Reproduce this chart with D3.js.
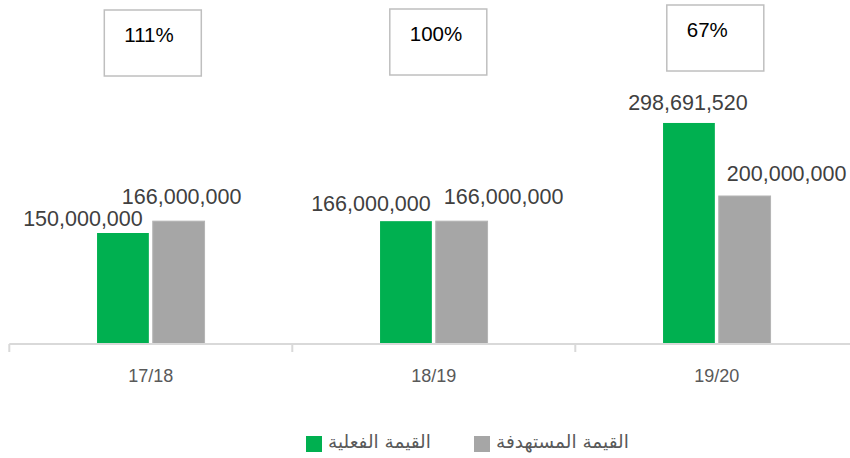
<!DOCTYPE html>
<html>
<head>
<meta charset="utf-8">
<script src="https://cdn.jsdelivr.net/npm/d3@7"></script>
<style>
  body { margin: 0; background: #fff; }
  svg { display: block; }
</style>
</head>
<body>
<div id="chart"></div>
<script>
// data
const years = ["17/18", "18/19", "19/20"];
const seriesNames = ["القيمة الفعلية", "القيمة المستهدفة"];
const actual = [150000000, 166000000, 298691520];
const target = [166000000, 166000000, 200000000];
const ratioLabels = ["111%", "100%", "67%"];

const colors = ["#00b050", "#a6a6a6"];

const width = 850, height = 458;
const baseY = 344;

// label nudges (Excel moved some labels by hand)
const labelNudge = [
  [[-40, -15], [3, -25]],
  [[-35, -18], [42, -25]],
  [[-1, -20], [42, -23]]
];
const boxNudge = [[2, 10], [4.5, 9], [-1.5, 5]];

const svg = d3.select("#chart").append("svg")
  .attr("width", width)
  .attr("height", height);

const x0 = d3.scaleBand()
  .domain(years)
  .range([9.3, 858.3]);

const x1 = d3.scaleBand()
  .domain([0, 1])
  .range([0, x0.bandwidth()])
  .paddingInner(0.07)
  .paddingOuter(1.575);

const y = d3.scaleLinear()
  .domain([0, 350000000])
  .range([baseY, baseY - 259]);

const rows = years.map((yr, i) => ({ yr, i, values: [actual[i], target[i]] }));

const groups = svg.selectAll("g.year")
  .data(rows)
  .enter()
  .append("g")
  .attr("class", "year")
  .attr("transform", d => `translate(${x0(d.yr)},0)`);

groups.selectAll("rect")
  .data(d => d.values.map((v, s) => ({ v, s, i: d.i })))
  .enter()
  .append("rect")
  .attr("x", d => x1(d.s))
  .attr("y", d => y(d.v))
  .attr("width", x1.bandwidth())
  .attr("height", d => baseY - y(d.v))
  .attr("fill", d => colors[d.s])
  .attr("stroke", d => d.s === 1 ? "#b4b4b4" : "none")
  .attr("stroke-width", 1);

const fmt = d3.format(",");
groups.selectAll("text.val")
  .data(d => d.values.map((v, s) => ({ v, s, i: d.i })))
  .enter()
  .append("text")
  .attr("class", "val")
  .attr("x", d => x1(d.s) + x1.bandwidth() / 2 + labelNudge[d.i][d.s][0])
  .attr("y", d => y(d.v) + labelNudge[d.i][d.s][1])
  .attr("dy", "0.35em")
  .attr("text-anchor", "middle")
  .style("font-family", "'Liberation Sans', Arial, sans-serif")
  .style("font-size", "21.5px")
  .attr("fill", "#404040")
  .text(d => fmt(d.v));

// x axis
const axis = svg.append("g").attr("transform", `translate(0,${baseY})`);
axis.append("line")
  .attr("x1", 9.3).attr("x2", 850)
  .attr("stroke", "#d9d9d9").attr("stroke-width", 2);
axis.selectAll("line.tick")
  .data(years.concat(["end"]))
  .enter()
  .append("line")
  .attr("class", "tick")
  .attr("x1", (d, i) => 9.3 + i * x0.step())
  .attr("x2", (d, i) => 9.3 + i * x0.step())
  .attr("y1", 0).attr("y2", 8)
  .attr("stroke", "#d9d9d9").attr("stroke-width", 2);
axis.selectAll("text")
  .data(years)
  .enter()
  .append("text")
  .attr("x", d => x0(d) + x0.bandwidth() / 2)
  .attr("y", 32)
  .attr("dy", "0.35em")
  .attr("text-anchor", "middle")
  .style("font-family", "'Liberation Sans Narrow', 'Liberation Sans', Arial, sans-serif")
  .style("font-size", "18px")
  .attr("fill", "#595959")
  .text(d => d);

// ratio boxes
const boxes = svg.selectAll("g.box")
  .data(ratioLabels)
  .enter()
  .append("g")
  .attr("class", "box")
  .attr("transform", (d, i) => {
    const cx = x0(years[i]) + x0.bandwidth() / 2 + boxNudge[i][0];
    return `translate(${cx - 48.5},${boxNudge[i][1]})`;
  });
boxes.append("rect")
  .attr("width", 97)
  .attr("height", 66)
  .attr("fill", "#fff")
  .attr("stroke", "#bfbfbf")
  .attr("stroke-width", 1.5);
boxes.append("text")
  .attr("x", 20)
  .attr("y", 25)
  .attr("dy", "0.35em")
  .style("font-family", "'Liberation Sans', Arial, sans-serif")
  .style("font-size", "20.5px")
  .attr("fill", "#000")
  .text(d => d);

// legend
const legendX = [306, 474];
const legend = svg.selectAll("g.legend")
  .data(seriesNames)
  .enter()
  .append("g")
  .attr("class", "legend")
  .attr("transform", (d, i) => `translate(${legendX[i]},436)`);
legend.append("rect")
  .attr("width", 16)
  .attr("height", 16)
  .attr("fill", (d, i) => colors[i]);
legend.append("text")
  .attr("x", 22)
  .attr("y", 6)
  .attr("dy", "0.35em")
  .attr("direction", "rtl")
  .attr("text-anchor", "end")
  .style("font-family", "'DejaVu Sans', sans-serif")
  .style("font-size", "18.5px")
  .attr("fill", "#595959")
  .text(d => d);
</script>
</body>
</html>
